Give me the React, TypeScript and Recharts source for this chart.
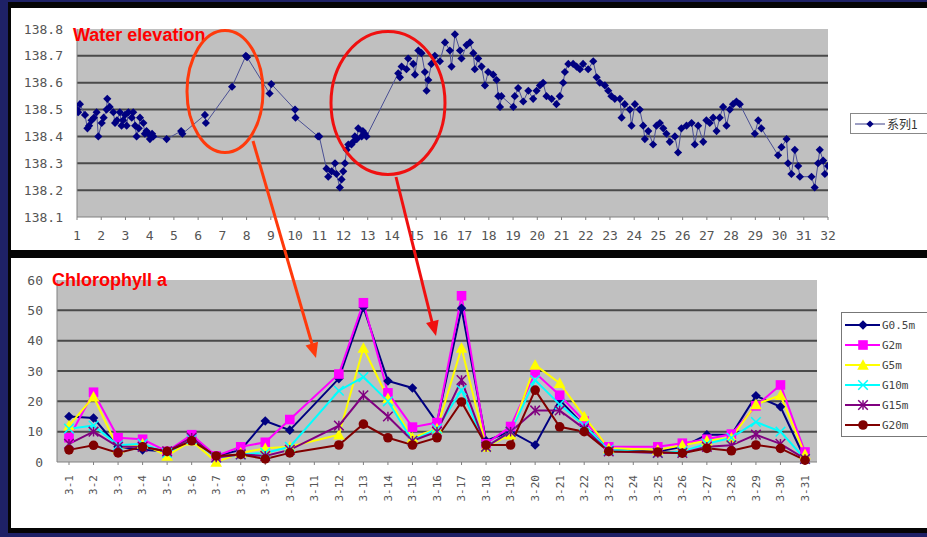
import React from "react";
import { LineChart, Line, XAxis, YAxis, CartesianGrid, Legend } from "recharts";

// water elevation: day of March (fractional) and level in m
const elevDay = [
  1.0, 1.05, 1.12, 1.33, 1.43, 1.5, 1.6, 1.7, 1.81, 1.88, 2.02, 2.1, 2.22, 2.25, 2.35, 2.5, 2.57, 2.65,
  2.77, 2.84, 2.9, 2.98, 3.05, 3.12, 3.26, 3.32, 3.4, 3.46, 3.55, 3.6, 3.74, 3.8, 3.87, 3.95, 4.01, 4.1,
  4.15, 4.7, 5.3, 5.35, 6.28, 6.32, 7.4, 7.97, 8.02, 8.95, 9.02, 10.0, 10.02, 10.95, 11.0, 11.3, 11.37,
  11.51, 11.65, 11.71, 11.85, 11.92, 11.99, 12.06, 12.13, 12.2, 12.33, 12.4, 12.47, 12.55, 12.61, 12.75,
  12.8, 12.88, 12.95, 14.26, 14.33, 14.4, 14.6, 14.67, 14.88, 14.95, 15.09, 15.22, 15.36, 15.43, 15.5,
  15.63, 15.77, 15.98, 16.19, 16.39, 16.46, 16.6, 16.81, 16.87, 17.08, 17.22, 17.36, 17.42, 17.56, 17.7,
  17.84, 17.97, 18.18, 18.32, 18.39, 18.46, 18.52, 19.01, 19.07, 19.21, 19.42, 19.63, 19.83, 19.97, 20.11,
  20.24, 20.38, 20.59, 20.79, 20.93, 21.07, 21.14, 21.28, 21.48, 21.62, 21.76, 21.89, 22.1, 22.31, 22.45,
  22.58, 22.79, 22.93, 23.06, 23.2, 23.41, 23.48, 23.61, 23.82, 23.89, 24.03, 24.23, 24.37, 24.44, 24.58,
  24.78, 24.92, 25.06, 25.2, 25.33, 25.47, 25.68, 25.81, 25.95, 26.16, 26.37, 26.5, 26.64, 26.85, 26.98,
  27.12, 27.26, 27.4, 27.53, 27.67, 27.81, 27.95, 28.08, 28.22, 28.36, 28.98, 29.12, 29.25, 29.94, 30.08,
  30.29, 30.35, 30.49, 30.63, 30.77, 30.84, 31.32, 31.45, 31.59, 31.66, 31.8, 31.87, 32.0,
];
const elevValue = [
  138.5, 138.49, 138.52, 138.48, 138.43, 138.44, 138.46, 138.47, 138.49, 138.4, 138.45, 138.47, 138.5, 138.54, 138.51, 138.49, 138.45, 138.46,
  138.49, 138.44, 138.46, 138.48, 138.44, 138.49, 138.47, 138.49, 138.44, 138.4, 138.43, 138.47, 138.45, 138.41, 138.42, 138.41, 138.39, 138.41,
  138.4, 138.39, 138.42, 138.41, 138.48, 138.45, 138.585, 138.7, 138.695, 138.56, 138.595, 138.5, 138.47, 138.4, 138.4, 138.28, 138.25,
  138.27, 138.3, 138.26, 138.21, 138.24, 138.27, 138.3, 138.35, 138.37, 138.37, 138.38, 138.4, 138.39, 138.43, 138.4,
  138.42, 138.41, 138.4, 138.635, 138.62, 138.66, 138.65, 138.69, 138.67, 138.63, 138.72, 138.71, 138.64, 138.57, 138.61,
  138.67, 138.7, 138.68, 138.75, 138.72, 138.66, 138.78, 138.72, 138.69, 138.74, 138.75, 138.71, 138.65, 138.69, 138.66,
  138.59, 138.64, 138.63, 138.61, 138.55, 138.51, 138.55, 138.51, 138.55, 138.58, 138.53, 138.57, 138.54, 138.57, 138.59,
  138.6, 138.55, 138.54, 138.52, 138.55, 138.6, 138.64, 138.67, 138.67, 138.66, 138.65, 138.67, 138.65, 138.68, 138.62,
  138.6, 138.59, 138.57, 138.55, 138.54, 138.54, 138.47, 138.52, 138.5, 138.44, 138.52, 138.5, 138.44, 138.39, 138.42,
  138.37, 138.44, 138.45, 138.43, 138.41, 138.38, 138.4, 138.34, 138.43, 138.44, 138.45, 138.37, 138.44, 138.38, 138.46,
  138.45, 138.47, 138.42, 138.47, 138.51, 138.44, 138.5, 138.52, 138.53, 138.52, 138.41, 138.46, 138.43, 138.33, 138.36,
  138.39, 138.3, 138.26, 138.35, 138.29, 138.25, 138.25, 138.21, 138.3, 138.35, 138.31, 138.26, 138.29,
];
const elevTicks = [138.1, 138.2, 138.3, 138.4, 138.5, 138.6, 138.7, 138.8];
const dayTicks = [
  1, 2, 3, 4, 5, 6, 7, 8, 9, 10, 11, 12, 13, 14, 15, 16, 17, 18, 19, 20, 21, 22, 23, 24, 25, 26, 27, 28, 29,
  30, 31, 32,
];

// chlorophyll a by depth, 3-11 and 3-24 not sampled
const chlDates = [
  "3-1", "3-2", "3-3", "3-4", "3-5", "3-6", "3-7", "3-8", "3-9", "3-10", "3-11", "3-12", "3-13", "3-14",
  "3-15", "3-16", "3-17", "3-18", "3-19", "3-20", "3-21", "3-22", "3-23", "3-24", "3-25", "3-26", "3-27",
  "3-28", "3-29", "3-30", "3-31",
];
const chlG05 = [15, 14.5, 5, 4, 3.5, 8, 2, 4, 13.5, 10.5, null, 27.5, 51, 26.7, 24.4, 13, 50.7, 7, 10, 5.6, 20.5, 12, 4, null, 3.5, 5, 9, 9, 21.8, 18.2, 1];
const chlG2 = [8, 23, 8, 7.5, 3.5, 9, 2, 5, 6.5, 14, null, 29, 52.5, 22.8, 11.5, 13, 54.8, 6, 11.7, 29.4, 22, 13.5, 5, null, 5, 6.2, 7.5, 9.2, 18.5, 25.4, 3.3];
const chlG5 = [12, 21.5, 4.5, 6, 2, 7, 0, 3, 4.5, 5, null, 9, 37.6, 21, 8, 11, 37.6, 5, 9, 32, 26, 15, 4.5, null, 4, 5.5, 7, 8, 19, 22, 2.5];
const chlG10 = [11, 12, 5.5, 6, 3, 7.5, 1.5, 2.5, 3, 5, null, 23.5, 28, 20, 7, 11, 23.7, 5, 10, 27, 19, 12, 4, null, 3, 3.5, 6, 8, 13.2, 10, 1];
const chlG15 = [6, 10, 5, 5, 3.5, 8, 1.5, 2.5, 2, 4, null, 12, 22, 15, 7, 10, 27, 5, 10, 17, 17, 11, 3.5, null, 3, 3, 5, 5.5, 9, 6, 1];
const chlG20 = [4, 5.5, 3, 5, 3.5, 7, 2, 2.5, 1, 3, null, 5.6, 12.5, 8, 5.6, 8, 19.8, 5.6, 5.6, 23.7, 11.6, 10, 3.5, null, 3.3, 2.9, 4.5, 3.7, 5.6, 4.5, 0.6];
const chlTicks = [0, 10, 20, 30, 40, 50, 60];

const elevData = elevDay.map((d, i) => ({ day: d, elev: elevValue[i] }));
const chlData = chlDates.map((d, i) => ({
  date: d,
  g05: chlG05[i],
  g2: chlG2[i],
  g5: chlG5[i],
  g10: chlG10[i],
  g15: chlG15[i],
  g20: chlG20[i],
}));

const chlSeries = [
  { key: "g05", name: "G0.5m", color: "#000080", shape: "diamond" },
  { key: "g2", name: "G2m", color: "#ff00ff", shape: "square" },
  { key: "g5", name: "G5m", color: "#ffff00", shape: "triangle" },
  { key: "g10", name: "G10m", color: "#00ffff", shape: "x" },
  { key: "g15", name: "G15m", color: "#800080", shape: "star" },
  { key: "g20", name: "G20m", color: "#800000", shape: "circle" },
];

const MONO = "'DejaVu Sans Mono', monospace";
const GRID = "#4a4a4a";

function Marker({ shape, color, cx, cy, s = 1 }: any) {
  const r = 4.8 * s;
  switch (shape) {
    case "diamond":
      return <polygon points={`${cx},${cy - r} ${cx + r},${cy} ${cx},${cy + r} ${cx - r},${cy}`} fill={color} />;
    case "square":
      return <rect x={cx - r} y={cy - r} width={r * 2} height={r * 2} fill={color} />;
    case "triangle":
      return <polygon points={`${cx},${cy - r - 1} ${cx + r + 1},${cy + r} ${cx - r - 1},${cy + r}`} fill={color} />;
    case "x":
      return (
        <g stroke={color} strokeWidth={1.5}>
          <line x1={cx - r} y1={cy - r} x2={cx + r} y2={cy + r} />
          <line x1={cx - r} y1={cy + r} x2={cx + r} y2={cy - r} />
        </g>
      );
    case "star":
      return (
        <g stroke={color} strokeWidth={1.5}>
          <line x1={cx - r} y1={cy - r} x2={cx + r} y2={cy + r} />
          <line x1={cx - r} y1={cy + r} x2={cx + r} y2={cy - r} />
          <line x1={cx} y1={cy - r} x2={cx} y2={cy + r} />
        </g>
      );
    default:
      return <circle cx={cx} cy={cy} r={r} fill={color} />;
  }
}

function dotFor(shape: string, color: string, s = 1) {
  return (p: any) =>
    p.cy == null || p.value == null ? (
      <g key={`n-${p.index}`} />
    ) : (
      <g key={`m-${p.index}`}>
        <Marker shape={shape} color={color} cx={p.cx} cy={p.cy} s={s} />
      </g>
    );
}

function DateTick({ x, y, payload }: any) {
  return (
    <text
      x={x}
      y={y}
      transform={`rotate(-90 ${x} ${y})`}
      textAnchor="end"
      dy="0.35em"
      fontSize={11}
      fontFamily={MONO}
      fill="#555"
    >
      {payload.value}
    </text>
  );
}

function ElevLegend() {
  return (
    <div style={{ border: "1px solid #888", background: "#fff", height: 19, display: "flex", alignItems: "center" }}>
      <svg width={36} height={19}>
        <line x1={4} y1={10} x2={34} y2={10} stroke="#3a3f88" strokeWidth={1} />
        <Marker shape="diamond" color="#000080" cx={19} cy={10} s={0.75} />
      </svg>
      <span style={{ fontFamily: "'Noto Sans CJK SC', sans-serif", fontSize: 12, color: "#333" }}>系列1</span>
    </div>
  );
}

function ChlLegend() {
  return (
    <div style={{ border: "1px solid #777", background: "#fff", paddingTop: 2, paddingBottom: 1 }}>
      {chlSeries.map((s) => (
        <div key={s.key} style={{ height: 20, display: "flex", alignItems: "center" }}>
          <svg width={40} height={20}>
            <line x1={3} y1={10} x2={38} y2={10} stroke={s.color} strokeWidth={2} />
            <Marker shape={s.shape} color={s.color} cx={21} cy={10} />
          </svg>
          <span style={{ fontFamily: MONO, fontSize: 11, color: "#444" }}>{s.name}</span>
        </div>
      ))}
    </div>
  );
}

function arrowHead(x1: number, y1: number, x2: number, y2: number, len = 15, half = 6.5) {
  const dx = x2 - x1;
  const dy = y2 - y1;
  const l = Math.hypot(dx, dy);
  const ux = dx / l;
  const uy = dy / l;
  const bx = x2 - ux * len;
  const by = y2 - uy * len;
  return `${x2},${y2} ${bx - uy * half},${by + ux * half} ${bx + uy * half},${by - ux * half}`;
}

function Annotations() {
  const orange = "#ff3a0c";
  const red = "#f01010";
  return (
    <svg width={927} height={537} style={{ position: "absolute", left: 0, top: 0, pointerEvents: "none" }}>
      <text x={73} y={41} fontFamily="'Liberation Sans', Arial, sans-serif" fontWeight="bold" fontSize={18} fill="#ff0000">
        Water elevation
      </text>
      <text x={52} y={286} fontFamily="'Liberation Sans', Arial, sans-serif" fontWeight="bold" fontSize={18} fill="#ff0000">
        Chlorophyll a
      </text>
      <ellipse cx={225} cy={91.5} rx={38} ry={61} fill="none" stroke={orange} strokeWidth={3} />
      <ellipse cx={388} cy={103} rx={57} ry={71.5} fill="none" stroke={red} strokeWidth={3} />
      <line x1={253} y1={141} x2={312} y2={344} stroke={orange} strokeWidth={3} />
      <polygon points={arrowHead(253, 141, 316, 358)} fill={orange} />
      <line x1={396} y1={177} x2={432} y2={322} stroke={red} strokeWidth={3} />
      <polygon points={arrowHead(396, 177, 436, 336)} fill={red} />
    </svg>
  );
}

export default function App() {
  return (
    <div
      style={{
        position: "fixed",
        left: 0,
        top: 0,
        width: 927,
        height: 537,
        overflow: "hidden",
        background: "#1e2166",
      }}
    >
      <div style={{ position: "absolute", left: 8, top: 2, width: 930, height: 531, background: "#050505" }} />
      <div style={{ position: "absolute", left: 11, top: 8, width: 920, height: 242, background: "#fff" }} />
      <div style={{ position: "absolute", left: 11, top: 258, width: 920, height: 270, background: "#fff" }} />

      <div style={{ position: "absolute", left: 0, top: 0 }}>
        <LineChart width={927} height={250} data={elevData} margin={{ top: 29, right: 99, left: 17, bottom: 3 }}>
          <CartesianGrid
            fill="#c0c0c0"
            vertical={false}
            stroke={GRID}
            strokeWidth={2}
            horizontalValues={[138.2, 138.3, 138.4, 138.5, 138.6, 138.7]}
          />
          <XAxis
            dataKey="day"
            type="number"
            domain={[1, 32]}
            ticks={dayTicks}
            interval={0}
            allowDataOverflow
            height={30}
            tickSize={3}
            tickMargin={11}
            stroke="#808080"
            tick={{ fontSize: 13, fill: "#555", fontFamily: MONO }}
          />
          <YAxis
            type="number"
            domain={[138.1, 138.8]}
            ticks={elevTicks}
            interval={0}
            allowDataOverflow
            width={60}
            tickLine={false}
            tickMargin={8}
            stroke="#808080"
            tickFormatter={(v: number) => v.toFixed(1)}
            tick={{ fontSize: 13, fill: "#555", fontFamily: MONO }}
          />
          <Legend
            layout="vertical"
            align="center"
            verticalAlign="middle"
            wrapperStyle={{ left: 850, top: 113, width: 90, height: 21 }}
            content={() => <ElevLegend />}
          />
          <Line
            type="linear"
            dataKey="elev"
            name="系列1"
            stroke="#4a4f94"
            strokeWidth={1}
            dot={dotFor("diamond", "#000080", 0.85)}
            activeDot={false}
            isAnimationActive={false}
          />
        </LineChart>
      </div>

      <div style={{ position: "absolute", left: 0, top: 255 }}>
        <LineChart width={927} height={272} data={chlData} margin={{ top: 25, right: 110, left: 17, bottom: 5 }}>
          <CartesianGrid
            fill="#c0c0c0"
            vertical={false}
            stroke={GRID}
            strokeWidth={2}
            horizontalValues={[10, 20, 30, 40, 50]}
          />
          <XAxis
            dataKey="date"
            interval={0}
            padding={{ left: 12, right: 12 }}
            height={60}
            tickSize={3}
            tickMargin={10}
            stroke="#808080"
            tick={<DateTick />}
          />
          <YAxis
            domain={[0, 60]}
            ticks={chlTicks}
            interval={0}
            width={40}
            tickLine={false}
            tickMargin={8}
            stroke="#808080"
            tick={{ fontSize: 13, fill: "#555", fontFamily: MONO }}
          />
          <Legend
            layout="vertical"
            align="center"
            verticalAlign="middle"
            wrapperStyle={{ left: 841, top: 57, width: 95, height: 124 }}
            content={() => <ChlLegend />}
          />
          {chlSeries.map((s) => (
            <Line
              key={s.key}
              type="linear"
              dataKey={s.key}
              name={s.name}
              stroke={s.color}
              strokeWidth={2}
              connectNulls
              dot={dotFor(s.shape, s.color)}
              activeDot={false}
              isAnimationActive={false}
            />
          ))}
        </LineChart>
      </div>

      <Annotations />
    </div>
  );
}
